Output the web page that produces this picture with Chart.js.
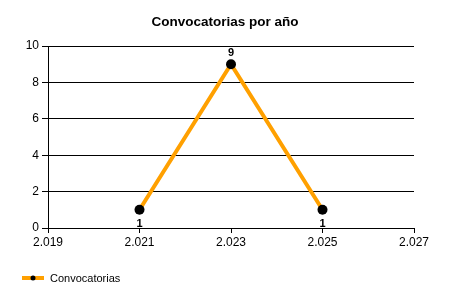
<!DOCTYPE html>
<html>
<head>
<meta charset="utf-8">
<script src="https://cdn.jsdelivr.net/npm/chart.js@4/dist/chart.umd.min.js"></script>
<style>
html,body{margin:0;padding:0;background:#fff;}
#wrap{width:450px;height:300px;}
</style>
</head>
<body>
<div id="wrap"><canvas id="c" width="450" height="300"></canvas></div>
<script>
const years = [2021, 2023, 2025];
const counts = [1, 9, 1];
const seriesName = 'Convocatorias';
const chartTitle = 'Convocatorias por año';
const xMin = 2019, xMax = 2027, xStep = 2;
const yMin = 0, yMax = 10, yStep = 2;

const FONT = '"Liberation Sans", Arial, sans-serif';
const ORANGE = '#FFA000';

function fmtYear(v){
  const s = String(Math.round(v));
  return s.length > 3 ? s.slice(0, s.length-3) + '.' + s.slice(-3) : s;
}

const decorPlugin = {
  id: 'decor',
  afterDraw(chart){
    const ctx = chart.ctx;
    ctx.save();
    // title centred on canvas
    ctx.font = 'bold 13.5px ' + FONT;
    ctx.fillStyle = '#000';
    ctx.textAlign = 'center';
    ctx.textBaseline = 'alphabetic';
    ctx.fillText(chartTitle, chart.width / 2, 26);
    // legend
    const ly = 278;
    ctx.strokeStyle = ORANGE;
    ctx.lineWidth = 4;
    ctx.beginPath(); ctx.moveTo(22, ly); ctx.lineTo(44, ly); ctx.stroke();
    ctx.fillStyle = '#000';
    ctx.beginPath(); ctx.arc(33, ly, 2.5, 0, Math.PI*2); ctx.fill();
    ctx.font = '11px ' + FONT;
    ctx.textAlign = 'left';
    ctx.textBaseline = 'middle';
    ctx.fillText(chart.data.datasets[0].label, 50, ly + 0.5);
    ctx.restore();
  },
  afterDatasetsDraw(chart){
    const ctx = chart.ctx;
    const ds = chart.data.datasets[0];
    const meta = chart.getDatasetMeta(0);
    const maxV = Math.max(...ds.data.map(d => d.y));
    ctx.save();
    ctx.font = 'bold 11px ' + FONT;
    ctx.fillStyle = '#000';
    ctx.textAlign = 'center';
    meta.data.forEach((pt, i) => {
      const v = ds.data[i].y;
      if (v === maxV) {
        ctx.textBaseline = 'bottom';
        ctx.fillText(String(v), pt.x, pt.y - 6);
      } else {
        ctx.textBaseline = 'top';
        ctx.fillText(String(v), pt.x, pt.y + 9);
      }
    });
    ctx.restore();
  }
};

new Chart(document.getElementById('c'), {
  type: 'line',
  data: {
    datasets: [{
      label: seriesName,
      data: years.map((y, i) => ({x: y, y: counts[i]})),
      borderColor: ORANGE,
      backgroundColor: ORANGE,
      borderWidth: 4,
      pointRadius: 5,
      pointBackgroundColor: '#000',
      pointBorderColor: '#000',
      pointBorderWidth: 0,
      tension: 0
    }]
  },
  options: {
    responsive: false,
    animation: false,
    layout: {padding: {left: 0, right: 36, top: 46, bottom: 34}},
    plugins: {
      title: {display: false},
      legend: {display: false},
      tooltip: {enabled: false}
    },
    scales: {
      x: {
        type: 'linear',
        min: xMin, max: xMax,
        ticks: {stepSize: xStep, color: '#000', font: {family: FONT, size: 12}, padding: 2,
          callback: v => fmtYear(v)},
        grid: {drawOnChartArea: false, drawTicks: true, tickLength: 5, color: '#000'},
        border: {color: '#000', width: 1},
        afterFit(s){ s.height = 38; }
      },
      y: {
        min: yMin, max: yMax,
        ticks: {stepSize: yStep, color: '#000', font: {family: FONT, size: 12}, padding: 3},
        grid: {color: '#000', lineWidth: 1, tickLength: 6},
        border: {color: '#000', width: 1},
        afterFit(s){ s.width = 48; }
      }
    }
  },
  plugins: [decorPlugin]
});
</script>
</body>
</html>
